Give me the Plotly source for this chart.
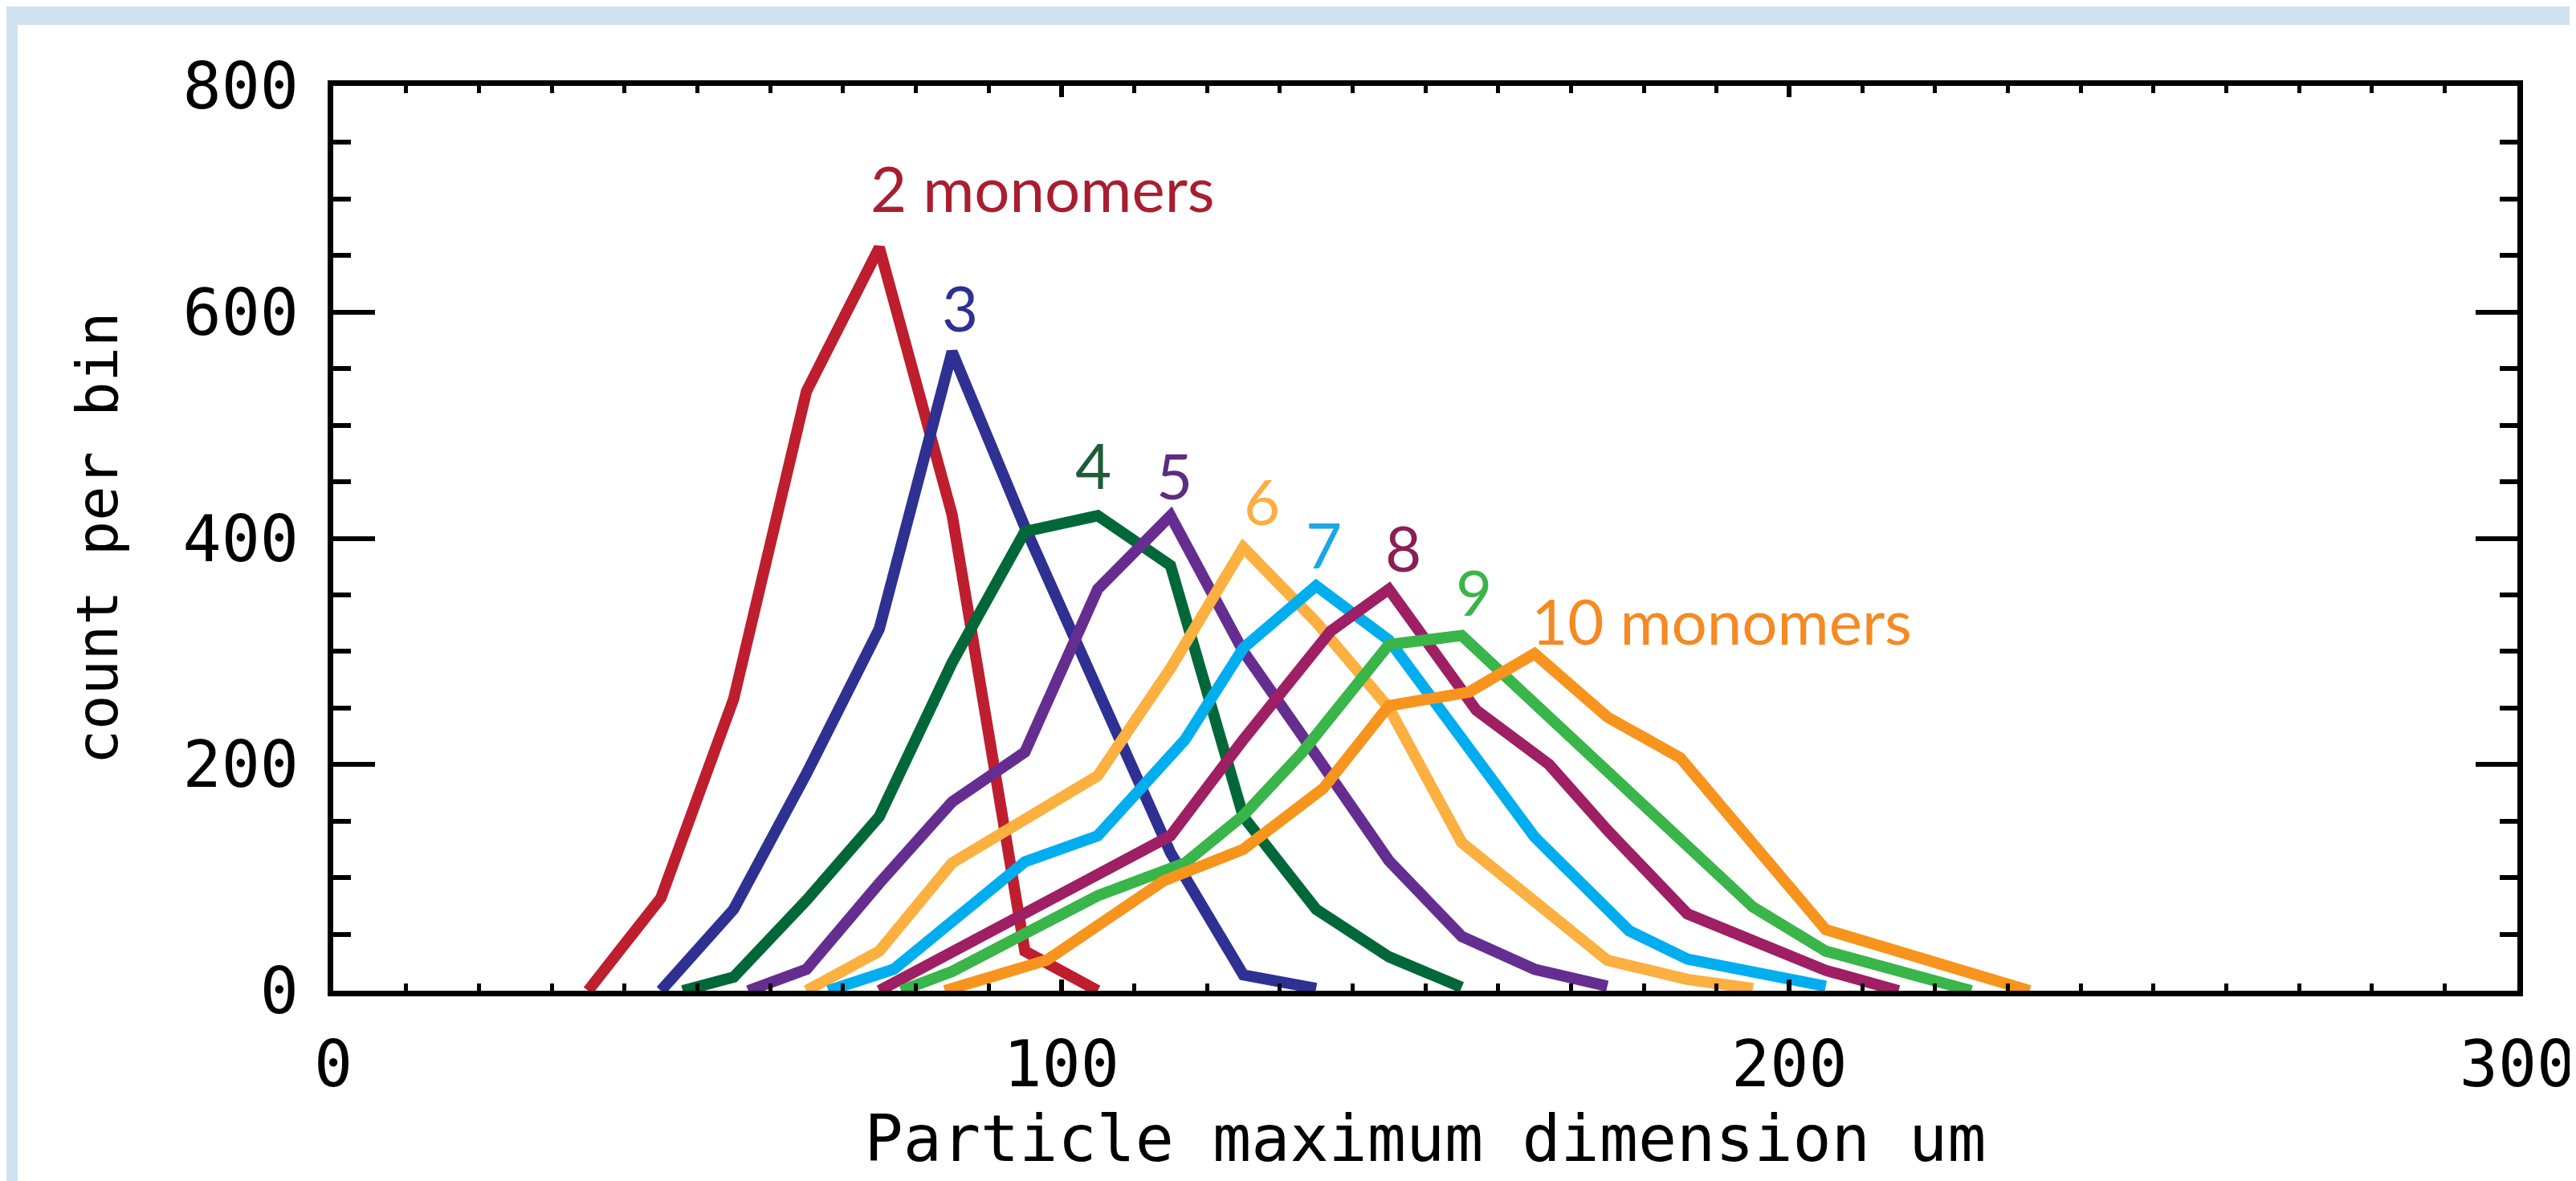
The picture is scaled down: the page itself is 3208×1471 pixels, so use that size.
import plotly.graph_objects as go

# ---------------- data ----------------
series_names = ["2 monomers", "3 monomers", "4 monomers", "5 monomers", "6 monomers",
                "7 monomers", "8 monomers", "9 monomers", "10 monomers"]

x_m2 = [35, 45, 55, 65, 75, 85, 95, 105]
y_m2 = [0, 82, 258, 530, 657, 421, 35, 0]

x_m3 = [45, 55, 65, 75, 85, 95, 105, 115, 125, 135]
y_m3 = [0, 72, 192, 320, 565, 410, 266, 122, 14, 2]

x_m4 = [48, 55, 65, 75, 85, 95, 105, 115, 125, 135, 145, 155]
y_m4 = [0, 12, 80, 154, 290, 406, 420, 376, 154, 72, 30, 3]

x_m5 = [57, 65, 75, 85, 95, 105, 115, 125, 135, 145, 155, 165, 175]
y_m5 = [0, 19, 95, 167, 211, 355, 420, 300, 208, 115, 48, 19, 4]

x_m6 = [65, 75, 85, 95, 105, 115, 125, 135, 145, 155, 165, 175, 186, 195]
y_m6 = [0, 35, 113, 152, 190, 285, 392, 326, 250, 131, 80, 27, 10, 2]

x_m7 = [68, 77, 95, 105, 117, 125, 135, 145, 165, 178, 186, 205]
y_m7 = [0, 19, 114, 137, 222, 303, 358, 310, 136, 53, 28, 4]

x_m8 = [75, 115, 125, 137, 145, 157, 167, 175, 186, 205, 215]
y_m8 = [0, 137, 222, 318, 355, 248, 200, 142, 68, 18, 0]

x_m9 = [78, 85, 105, 117, 125, 133, 145, 155, 176, 195, 205, 225]
y_m9 = [0, 17, 84, 113, 155, 210, 306, 314, 188, 74, 35, 0]

x_m10 = [84, 98, 114, 125, 136, 145, 156, 165, 175, 185, 205, 233]
y_m10 = [0, 27, 97, 125, 179, 252, 264, 298, 242, 206, 54, 0]

label_text = ["2 monomers", "3", "4", "5", "6", "7", "8", "9", "10 monomers"]
label_x = [97.4, 86.1, 104.4, 115.5, 127.6, 136.1, 147.0, 156.7, 190.7]
label_y = [710, 604, 465, 456, 433, 395, 392, 353, 327]

x_tick_vals = [0, 100, 200, 300]
x_tick_text = ["0", "100", "200", "300"]
y_tick_vals = [0, 200, 400, 600, 800]
y_tick_text = ["0", "200", "400", "600", "800"]

# ---------------- styling ----------------
line_colors = ["#BE1E2D", "#2E3192", "#006838", "#662D91", "#FBB040",
               "#00AEEF", "#9E1F63", "#39B54A", "#F7941D"]
label_colors = ["#A81E30", "#2E3192", "#1E5C37", "#5B2C83", "#FBAE42",
                "#1CA6E4", "#8A1E55", "#39B54A", "#F58A22"]

xs = [x_m2, x_m3, x_m4, x_m5, x_m6, x_m7, x_m8, x_m9, x_m10]
ys = [y_m2, y_m3, y_m4, y_m5, y_m6, y_m7, y_m8, y_m9, y_m10]

W, H = 3208, 1471
ML, MR, MT, MB = 407, 81, 99, 245
PW, PH = W - ML - MR, H - MT - MB


def pxx(px):
    return (px - ML) / PW


def pyy(py):
    return 1 - (py - MT) / PH


fig = go.Figure()
for name, xv, yv, col in zip(series_names, xs, ys, line_colors):
    fig.add_trace(go.Scatter(x=xv, y=yv, mode="lines", name=name,
                             line=dict(color=col, width=14),
                             showlegend=False, hoverinfo="x+y+name"))

for t, lx, ly, c in zip(label_text, label_x, label_y, label_colors):
    fig.add_annotation(x=lx, y=ly, xref="x", yref="y", text=t, showarrow=False,
                       xanchor="center", yanchor="middle",
                       font=dict(family="Lato", size=78, color=c))

axis_font = dict(family="DejaVu Sans Mono", size=80, color="black")

fig.update_xaxes(range=[0, 300], showgrid=False, zeroline=False,
                 showline=True, linecolor="black", linewidth=7, mirror="allticks",
                 ticks="inside", ticklen=14, tickwidth=6, tickcolor="black",
                 tickvals=x_tick_vals, ticktext=x_tick_text, tickfont=axis_font,
                 ticklabelstandoff=16,
                 minor=dict(dtick=10, ticks="inside", ticklen=9, tickwidth=5,
                            tickcolor="black", showgrid=False),
                 title=dict(text="Particle maximum dimension um",
                            font=dict(family="DejaVu Sans Mono", size=80, color="black"),
                            standoff=20))

fig.update_yaxes(range=[0, 800], showgrid=False, zeroline=False,
                 showline=True, linecolor="black", linewidth=7, mirror="allticks",
                 ticks="inside", ticklen=52, tickwidth=6, tickcolor="black",
                 tickvals=y_tick_vals, ticktext=y_tick_text, tickfont=axis_font,
                 ticklabelstandoff=20,
                 minor=dict(dtick=50, ticks="inside", ticklen=22, tickwidth=6,
                            tickcolor="black", showgrid=False),
                 title=dict(text="count per bin",
                            font=dict(family="DejaVu Sans Mono", size=72, color="black"),
                            standoff=60))

frame_blue = "#CFE0F1"
fig.add_shape(type="rect", xref="paper", yref="paper",
              x0=pxx(0), x1=pxx(W), y0=pyy(23), y1=pyy(0),
              fillcolor=frame_blue, line=dict(width=0), layer="below")
fig.add_shape(type="rect", xref="paper", yref="paper",
              x0=pxx(0), x1=pxx(14), y0=pyy(H), y1=pyy(0),
              fillcolor=frame_blue, line=dict(width=0), layer="below")

fig.update_layout(width=W, height=H, autosize=False,
                  margin=dict(l=ML, r=MR, t=MT, b=MB, autoexpand=False),
                  paper_bgcolor="white", plot_bgcolor="white",
                  showlegend=False)

fig.write_html("out.html")
